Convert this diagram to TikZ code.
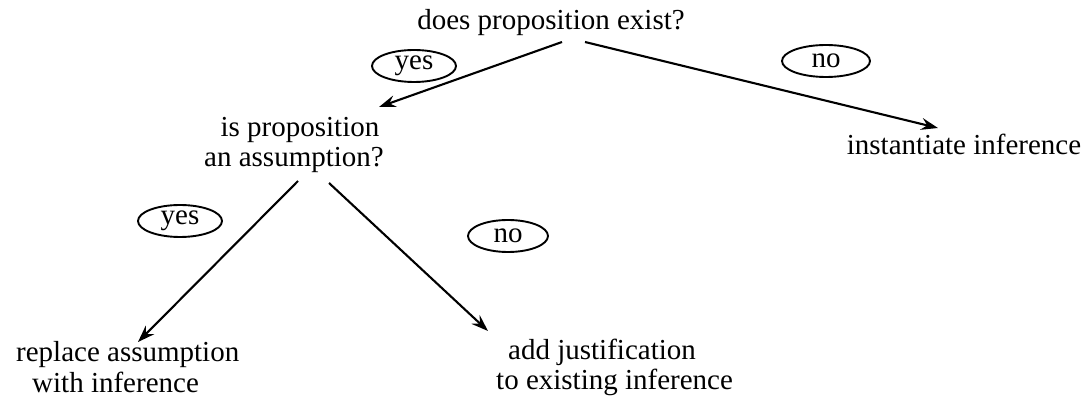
\documentclass[tikz,border=0pt]{standalone}
\usepackage{fontspec}
\setmainfont{Liberation Serif}
\usetikzlibrary{arrows.meta,shapes.geometric}
\begin{document}
\begin{tikzpicture}[x=1pt,y=-1pt,
  lbl/.style={font=\fontsize{29}{30}\selectfont, inner sep=0pt, anchor=base},
  lblw/.style={lbl, anchor=base west},
  tag/.style={draw, ellipse, line width=1.9pt, minimum width=84pt, minimum height=32pt,
              inner sep=0pt, font=\fontsize{29}{30}\selectfont},
  conn/.style={line width=2.1pt, -{Stealth[length=17pt,width=12pt,inset=6pt]}}]
\useasboundingbox (0,0) rectangle (1088,403);

% questions and outcomes
\node[lbl] (q1) at (551,30) {does proposition exist?};
\node[lbl] (inst) at (964,155) {instantiate inference};
\node[lbl] (q2a) at (300,137) {is proposition};
\node[lbl] (q2b) at (294,167) {an assumption?};
\node[lblw] (r1) at (16,362) {replace assumption};
\node[lblw] (r2) at (32,393) {with inference};
\node[lblw] (a1) at (508,360) {add justification};
\node[lblw] (a2) at (496,390) {to existing inference};

% answer tags
\node[tag] (y1) at (414,66) {yes};
\node[tag, minimum width=88pt] (n1) at (826,61) {no};
\node[tag] (y2) at (180,221) {yes};
\node[tag, minimum width=80pt] (n2) at (508,236) {no};

% connector end points
\coordinate (s1) at (562,42);
\coordinate (t1) at (379,107);
\coordinate (s2) at (585,42);
\coordinate (t2) at (938,128);
\coordinate (s3) at (298,181);
\coordinate (t3) at (138,342);
\coordinate (s4) at (329,183);
\coordinate (t4) at (488,331);

\draw[conn] (s1) -- (t1);
\draw[conn] (s2) -- (t2);
\draw[conn] (s3) -- (t3);
\draw[conn] (s4) -- (t4);
\end{tikzpicture}
\end{document}
